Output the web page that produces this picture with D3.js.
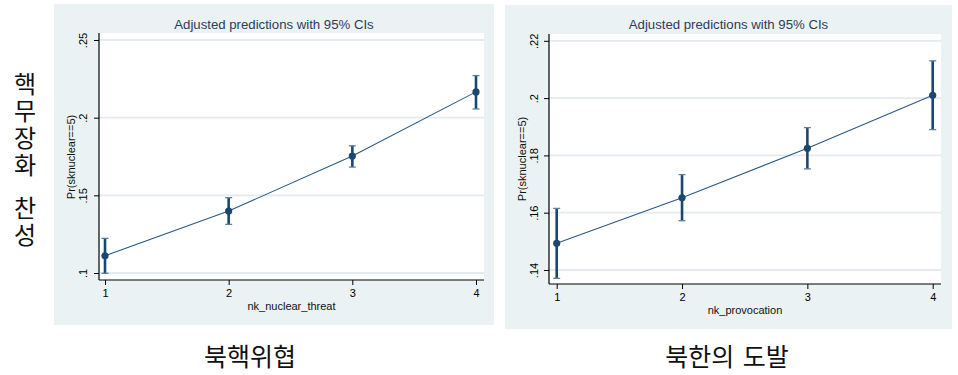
<!DOCTYPE html>
<html>
<head>
<meta charset="utf-8">
<script src="https://cdn.jsdelivr.net/npm/d3@7"></script>
<style>
  html, body { margin: 0; padding: 0; background: #ffffff; }
  svg { display: block; }
  text { font-family: "Liberation Sans", Arial, sans-serif; }
  .kr { font-family: "Noto Sans CJK KR", sans-serif; fill: #111; }
</style>
</head>
<body>
<svg id="chart" width="958" height="375"></svg>
<script>
// Predictor levels shared by both panels
const xLevels = [1, 2, 3, 4];

// Panel A: nk_nuclear_threat -> Pr(sknuclear==5), margins with 95% CI
const threatMargin = [0.1111, 0.1399, 0.1753, 0.2166];
const threatLo     = [0.0998, 0.1313, 0.1682, 0.2056];
const threatHi     = [0.1223, 0.1485, 0.1819, 0.2271];
const threatTicks  = [0.10, 0.15, 0.20, 0.25];
const threatTickLabels = [".1", ".15", ".2", ".25"];

// Panel B: nk_provocation -> Pr(sknuclear==5), margins with 95% CI
const provMargin = [0.1493, 0.1652, 0.1825, 0.2010];
const provLo     = [0.1371, 0.1572, 0.1753, 0.1890];
const provHi     = [0.1615, 0.1733, 0.1897, 0.2130];
const provTicks  = [0.14, 0.16, 0.18, 0.20, 0.22];
const provTickLabels = [".14", ".16", ".18", ".2", ".22"];

// Text
const plotTitle = "Adjusted predictions with 95% CIs";
const yTitle = "Pr(sknuclear==5)";
const xTitles = ["nk_nuclear_threat", "nk_provocation"];
const panelCaptions = ["북핵위협", "북한의 도발"];
const sideCaptionWords = ["핵무장화", "찬성"];

const navy = "#1a476f";
const regionFill = "#eaf2f3";
const gridColor = "#e3ebee";

const svg = d3.select("#chart");

const panels = [
  {
    margin: threatMargin, lo: threatLo, hi: threatHi,
    ticks: threatTicks, tickLabels: threatTickLabels, xTitle: xTitles[0],
    region: {x: 54, y: 4, w: 440, h: 321},
    plot: {left: 99, right: 484, top: 33, bottom: 280},
    xRange: [105, 476], yDomain: [0.10, 0.25], yRange: [273, 40],
    titleY: 28.5, xTickY: 296.5, xTitleY: 310, yTickBase: -12, yTitleX: 74.5, yTitleY: 157,
    caption: panelCaptions[0], captionX: 250
  },
  {
    margin: provMargin, lo: provLo, hi: provHi,
    ticks: provTicks, tickLabels: provTickLabels, xTitle: xTitles[1],
    region: {x: 505, y: 5, w: 447, h: 324},
    plot: {left: 549, right: 941, top: 34, bottom: 284},
    xRange: [556.7, 932.7], yDomain: [0.14, 0.22], yRange: [270, 40.8],
    titleY: 29, xTickY: 300.5, xTitleY: 314, yTickBase: -11.5, yTitleX: 526, yTitleY: 159,
    caption: panelCaptions[1], captionX: 727
  }
];

panels.forEach(p => {
  const g = svg.append("g");
  const x = d3.scaleLinear().domain([1, 4]).range(p.xRange);
  const y = d3.scaleLinear().domain(p.yDomain).range(p.yRange);

  // graph region and plot region
  g.append("rect")
    .attr("x", p.region.x).attr("y", p.region.y)
    .attr("width", p.region.w).attr("height", p.region.h)
    .attr("fill", regionFill);
  g.append("rect")
    .attr("x", p.plot.left).attr("y", p.plot.top)
    .attr("width", p.plot.right - p.plot.left).attr("height", p.plot.bottom - p.plot.top)
    .attr("fill", "#ffffff");

  // horizontal gridlines
  g.selectAll("line.grid").data(p.ticks).join("line")
    .attr("class", "grid")
    .attr("x1", p.plot.left).attr("x2", p.plot.right)
    .attr("y1", d => y(d)).attr("y2", d => y(d))
    .attr("stroke", gridColor).attr("stroke-width", 1.8);

  // title
  g.append("text")
    .attr("x", p.region.x + p.region.w / 2).attr("y", p.titleY)
    .attr("text-anchor", "middle")
    .attr("font-size", 13.2).attr("fill", "#2c3c5c")
    .text(plotTitle);

  // y axis
  const yAxis = d3.axisLeft(y)
    .tickValues(p.ticks)
    .tickFormat((d, i) => p.tickLabels[i])
    .tickSize(5).tickSizeOuter(0);
  const ya = g.append("g").attr("transform", `translate(${p.plot.left},0)`).call(yAxis);
  ya.select(".domain").remove();
  ya.selectAll(".tick line").attr("stroke", "#000").attr("stroke-width", 1);
  ya.selectAll(".tick text")
    .attr("transform", "rotate(-90)")
    .attr("x", 0).attr("y", p.yTickBase).attr("dy", 0)
    .attr("text-anchor", "middle")
    .attr("font-size", 11).attr("fill", "#000")
    .attr("font-family", "Liberation Sans, Arial, sans-serif");

  // x axis
  const xAxis = d3.axisBottom(x)
    .tickValues(xLevels)
    .tickFormat(d3.format("d"))
    .tickSize(5).tickSizeOuter(0);
  const xa = g.append("g").attr("transform", `translate(0,${p.plot.bottom})`).call(xAxis);
  xa.select(".domain").remove();
  xa.selectAll(".tick line").attr("stroke", "#000").attr("stroke-width", 1);
  xa.selectAll(".tick text")
    .attr("y", p.xTickY - p.plot.bottom).attr("dy", 0)
    .attr("font-size", 11).attr("fill", "#000")
    .attr("font-family", "Liberation Sans, Arial, sans-serif");

  // axis lines
  g.append("line")
    .attr("x1", p.plot.left).attr("x2", p.plot.left)
    .attr("y1", p.plot.top).attr("y2", p.plot.bottom)
    .attr("stroke", "#000").attr("stroke-width", 1.2);
  g.append("line")
    .attr("x1", p.plot.left).attr("x2", p.plot.right)
    .attr("y1", p.plot.bottom).attr("y2", p.plot.bottom)
    .attr("stroke", "#000").attr("stroke-width", 1.2);

  // axis titles
  g.append("text")
    .attr("x", (p.plot.left + p.plot.right) / 2).attr("y", p.xTitleY)
    .attr("text-anchor", "middle").attr("font-size", 11).attr("fill", "#111")
    .text(p.xTitle);
  g.append("text")
    .attr("transform", `translate(${p.yTitleX},${p.yTitleY}) rotate(-90)`)
    .attr("text-anchor", "middle").attr("font-size", 11).attr("fill", "#111")
    .text(yTitle);

  const pts = xLevels.map((v, i) => ({x: v, m: p.margin[i], lo: p.lo[i], hi: p.hi[i]}));

  // connecting line
  g.append("path")
    .datum(pts)
    .attr("fill", "none").attr("stroke", "#2a5a86").attr("stroke-width", 1.1)
    .attr("d", d3.line().x(d => x(d.x)).y(d => y(d.m)));

  // confidence intervals
  g.selectAll("line.ci").data(pts).join("line")
    .attr("class", "ci")
    .attr("x1", d => x(d.x)).attr("x2", d => x(d.x))
    .attr("y1", d => y(d.lo)).attr("y2", d => y(d.hi))
    .attr("stroke", navy).attr("stroke-width", 2.6);
  ["lo", "hi"].forEach(k => {
    g.selectAll("line.cap-" + k).data(pts).join("line")
      .attr("class", "cap-" + k)
      .attr("x1", d => x(d.x) - 3.5).attr("x2", d => x(d.x) + 3.5)
      .attr("y1", d => y(d[k])).attr("y2", d => y(d[k]))
      .attr("stroke", "#5f7f9c").attr("stroke-width", 1.3);
  });

  // markers
  g.selectAll("circle.pt").data(pts).join("circle")
    .attr("class", "pt")
    .attr("cx", d => x(d.x)).attr("cy", d => y(d.m))
    .attr("r", 3.6).attr("fill", navy);

  // caption under the panel
  svg.append("text")
    .attr("class", "kr")
    .attr("x", p.captionX).attr("y", 366)
    .attr("text-anchor", "middle").attr("font-size", 25)
    .attr("word-spacing", 3)
    .text(p.caption);
});

// vertical caption on the left, set top-to-bottom
const side = svg.append("text")
  .attr("class", "kr")
  .attr("x", 25).attr("y", 72)
  .attr("font-size", 24)
  .style("writing-mode", "vertical-rl")
  .style("text-orientation", "upright")
  .attr("letter-spacing", 3);
side.append("tspan").attr("x", 25).attr("y", 72).text(sideCaptionWords[0]);
side.append("tspan").attr("x", 25).attr("y", 196).text(sideCaptionWords[1]);
</script>
</body>
</html>
